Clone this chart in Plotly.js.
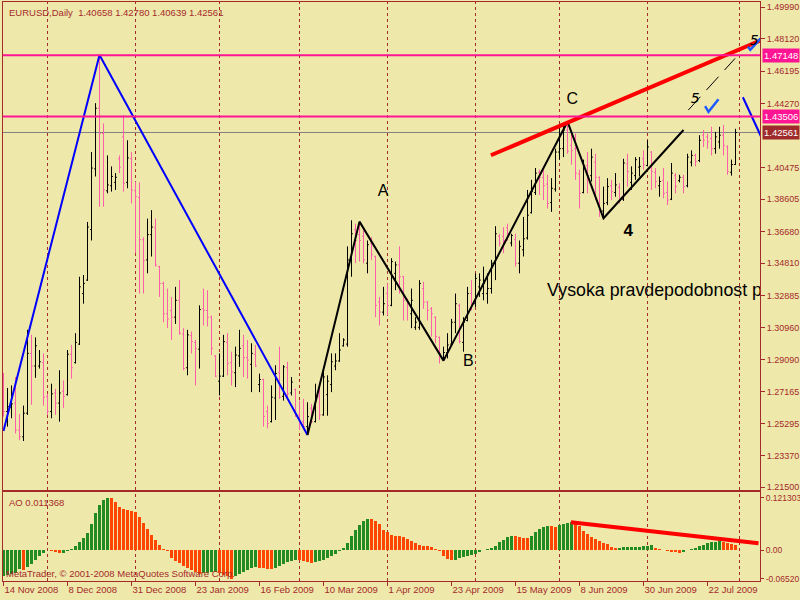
<!DOCTYPE html>
<html><head><meta charset="utf-8">
<script src="https://cdn.plot.ly/plotly-3.0.1.min.js"></script>
<style>html,body{margin:0;padding:0;background:#EEE8AA;}</style>
</head><body><div id="chart" style="width:800px;height:600px;"></div>
<script>
// ---- EURUSD Daily, 14 Nov 2008 .. 31 Jul 2009 (one entry per bar) ----
const openP = [1.2770,1.2600,1.2625,1.2650,1.2490,1.2450,1.2590,1.2945,1.2870,1.2870,
1.2890,1.2690,1.2600,1.2710,1.2650,1.2720,1.2700,1.2940,1.2890,1.3000,
1.3300,1.3380,1.3680,1.4040,1.4400,1.4250,1.3910,1.3940,1.3960,1.4100,
1.4230,1.3960,1.4100,1.3910,1.3870,1.3620,1.3500,1.3650,1.3690,1.3460,
1.3360,1.3180,1.3200,1.3160,1.3260,1.3060,1.2860,1.3050,1.3010,1.2970,
1.3210,1.3200,1.3160,1.2930,1.2780,1.2810,1.3010,1.2890,1.2830,1.2930,
1.2990,1.2920,1.2880,1.2940,1.2760,1.2790,1.2600,1.2540,1.2680,1.2830,
1.2690,1.2860,1.2710,1.2730,1.2580,1.2540,1.2510,1.2620,1.2540,1.2690,
1.2580,1.2700,1.2760,1.2870,1.2900,1.2990,1.3000,1.3500,1.3680,1.3650,
1.3640,1.3480,1.3600,1.3520,1.3250,1.3190,1.3300,1.3230,1.3420,1.3470,
1.3400,1.3265,1.3180,1.3100,1.3100,1.3330,1.3250,1.3210,1.3160,1.3040,
1.2915,1.2950,1.3000,1.3130,1.3230,1.3010,1.3140,1.3300,1.3240,1.3340,
1.3300,1.3300,1.3330,1.3480,1.3640,1.3640,1.3690,1.3600,1.3620,1.3480,
1.3560,1.3630,1.3780,1.3900,1.4020,1.3990,1.3950,1.3840,1.3920,1.4140,
1.4160,1.4270,1.4180,1.4160,1.4010,1.3900,1.4060,1.4000,1.4080,1.3990,
1.3790,1.3840,1.3940,1.3900,1.3930,1.3860,1.4070,1.3960,1.4000,1.4050,
1.4100,1.4060,1.4140,1.4020,1.3940,1.3970,1.3900,1.3860,1.4000,1.3970,
1.3990,1.3940,1.4080,1.4120,1.4090,1.4240,1.4230,1.4220,1.4160,1.4200,
1.4240,1.4170,1.4020,1.40658];
const highP = [1.2830,1.2740,1.2755,1.2805,1.2585,1.2635,1.3085,1.3055,1.3040,1.2965,
1.2945,1.2705,1.2765,1.2735,1.2845,1.2785,1.2965,1.2995,1.3065,1.3400,
1.3410,1.3725,1.4140,1.4430,1.4716,1.4310,1.4120,1.4055,1.4015,1.4120,
1.4360,1.4210,1.4140,1.3965,1.3960,1.3635,1.3745,1.3795,1.3745,1.3465,
1.3370,1.3330,1.3280,1.3340,1.3380,1.3095,1.3085,1.3075,1.3025,1.3230,
1.3330,1.3320,1.3170,1.2935,1.2945,1.3055,1.3065,1.2955,1.2985,1.3085,
1.3055,1.3025,1.3005,1.2995,1.2825,1.2795,1.2635,1.2755,1.2875,1.2985,
1.2875,1.2895,1.2805,1.2736,1.2665,1.2675,1.2655,1.2645,1.2765,1.2735,
1.2845,1.2815,1.2945,1.2945,1.3065,1.3035,1.3580,1.3735,1.3715,1.3727,
1.3675,1.3615,1.3635,1.3525,1.3280,1.3340,1.3360,1.3510,1.3490,1.3580,
1.3405,1.3270,1.3330,1.3160,1.3380,1.3370,1.3255,1.3220,1.3165,1.3045,
1.2985,1.3065,1.3150,1.3300,1.3240,1.3160,1.3340,1.3380,1.3420,1.3420,
1.3460,1.3420,1.3500,1.3700,1.3655,1.3695,1.3715,1.3655,1.3655,1.3615,
1.3755,1.3915,1.3975,1.4045,1.4035,1.4055,1.4005,1.3985,1.4160,1.4290,
1.4310,1.4320,1.4270,1.4250,1.4035,1.4095,1.4140,1.4160,1.4130,1.3995,
1.3935,1.3985,1.3975,1.4015,1.3955,1.4100,1.4130,1.4055,1.4110,1.4110,
1.4150,1.4210,1.4145,1.4045,1.3995,1.4045,1.3965,1.4075,1.4015,1.4005,
1.4005,1.4130,1.4150,1.4130,1.4240,1.4270,1.4250,1.4290,1.4260,1.4290,
1.4300,1.4180,1.4095,1.42780];
const lowP = [1.2570,1.2510,1.2560,1.2470,1.2430,1.2425,1.2580,1.2640,1.2800,1.2855,
1.2635,1.2580,1.2560,1.2580,1.2540,1.2620,1.2695,1.2795,1.2885,1.2995,
1.3240,1.3375,1.3615,1.3995,1.3815,1.3815,1.3895,1.3905,1.3915,1.4015,
1.3905,1.3925,1.3835,1.3540,1.3300,1.3300,1.3420,1.3520,1.3460,1.3280,
1.3130,1.3095,1.3025,1.3120,1.3055,1.2845,1.2815,1.2945,1.2755,1.2855,
1.3110,1.3105,1.2935,1.2805,1.2695,1.2805,1.2815,1.2755,1.2745,1.2865,
1.2805,1.2795,1.2715,1.2865,1.2715,1.2510,1.2500,1.2535,1.2550,1.2675,
1.2665,1.2685,1.2695,1.2568,1.2490,1.2490,1.2460,1.2530,1.2535,1.2550,
1.2575,1.2575,1.2715,1.2845,1.2895,1.2985,1.2985,1.3400,1.3480,1.3490,
1.3480,1.3420,1.3500,1.3160,1.3110,1.3170,1.3170,1.3225,1.3320,1.3300,
1.3140,1.3140,1.3095,1.3085,1.3085,1.3210,1.3140,1.3045,1.3005,1.2885,
1.2902,1.2915,1.2995,1.3065,1.3005,1.2955,1.3135,1.3200,1.3220,1.3280,
1.3260,1.3240,1.3300,1.3380,1.3580,1.3540,1.3615,1.3580,1.3460,1.3420,
1.3520,1.3620,1.3775,1.3885,1.3885,1.3855,1.3805,1.3785,1.3905,1.4095,
1.4110,1.4130,1.4065,1.3975,1.3805,1.3895,1.3895,1.3965,1.3855,1.3755,
1.3747,1.3825,1.3855,1.3875,1.3835,1.3850,1.3935,1.3915,1.3975,1.3995,
1.4035,1.4055,1.3915,1.3925,1.3875,1.3865,1.3825,1.3855,1.3895,1.3960,
1.3895,1.3930,1.4055,1.4055,1.4080,1.4170,1.4160,1.4120,1.4130,1.4160,
1.4120,1.4005,1.4000,1.40639];
const closeP = [1.2600,1.2630,1.2645,1.2490,1.2450,1.2590,1.2945,1.2870,1.2990,1.2895,
1.2685,1.2600,1.2705,1.2650,1.2710,1.2690,1.2940,1.2860,1.3010,1.3340,
1.3360,1.3695,1.4045,1.4400,1.4250,1.3915,1.3945,1.3995,1.3990,1.4050,
1.3955,1.4105,1.3915,1.3875,1.3620,1.3495,1.3650,1.3695,1.3470,1.3360,
1.3180,1.3150,1.3160,1.3260,1.3065,1.2855,1.3055,1.3015,1.2975,1.3205,
1.3200,1.3160,1.2975,1.2810,1.2810,1.3015,1.2885,1.2835,1.2935,1.2975,
1.2920,1.2905,1.2945,1.2870,1.2790,1.2570,1.2530,1.2685,1.2825,1.2685,
1.2865,1.2705,1.2775,1.2578,1.2530,1.2510,1.2570,1.2540,1.2685,1.2580,
1.2805,1.2780,1.2895,1.2900,1.2965,1.3025,1.3500,1.3655,1.3615,1.3615,
1.3500,1.3590,1.3530,1.3230,1.3190,1.3240,1.3230,1.3490,1.3470,1.3400,
1.3260,1.3250,1.3260,1.3130,1.3360,1.3250,1.3200,1.3180,1.3045,1.2945,
1.2950,1.2995,1.3130,1.3240,1.3015,1.3130,1.3300,1.3240,1.3390,1.3380,
1.3360,1.3330,1.3480,1.3655,1.3600,1.3615,1.3640,1.3645,1.3480,1.3580,
1.3625,1.3765,1.3905,1.4015,1.3990,1.3940,1.3835,1.3925,1.4140,1.4160,
1.4270,1.4145,1.4150,1.4015,1.3895,1.4055,1.4000,1.4110,1.3990,1.3795,
1.3835,1.3935,1.3905,1.3945,1.3855,1.4075,1.4025,1.4015,1.4095,1.4055,
1.4065,1.4170,1.4025,1.3965,1.3965,1.3895,1.3855,1.4015,1.3935,1.3990,
1.3935,1.4110,1.4120,1.4085,1.4210,1.4210,1.4200,1.4160,1.4230,1.4240,
1.4180,1.4025,1.4066,1.42561];
// Awesome Oscillator, one value per bar
const aoValues = [-0.0584,-0.0569,-0.0546,-0.0515,-0.0431,-0.0461,-0.0385,-0.0308,-0.0231,-0.0138,
-0.0062,0.0008,-0.0015,-0.0046,-0.0069,-0.0054,-0.0023,0.0031,0.0092,0.0185,
0.0285,0.0400,0.0608,0.0861,0.1054,0.1169,0.1213,0.1207,0.1123,0.1000,
0.0961,0.0938,0.0907,0.0877,0.0769,0.0631,0.0492,0.0361,0.0246,0.0131,
0.0038,-0.0015,-0.0177,-0.0254,-0.0292,-0.0354,-0.0408,-0.0461,-0.0500,-0.0546,
-0.0531,-0.0515,-0.0500,-0.0492,-0.0523,-0.0561,-0.0600,-0.0652,-0.0600,-0.0546,
-0.0492,-0.0446,-0.0415,-0.0392,-0.0400,-0.0415,-0.0431,-0.0438,-0.0415,-0.0369,
-0.0308,-0.0277,-0.0246,-0.0215,-0.0231,-0.0254,-0.0277,-0.0292,-0.0277,-0.0246,
-0.0223,-0.0185,-0.0138,-0.0077,-0.0023,0.0054,0.0169,0.0323,0.0477,0.0592,
0.0669,0.0723,0.0715,0.0669,0.0608,0.0477,0.0415,0.0361,0.0338,0.0323,
0.0308,0.0261,0.0208,0.0161,0.0131,0.0108,0.0092,0.0069,0.0038,-0.0015,
-0.0123,-0.0200,-0.0231,-0.0215,-0.0185,-0.0154,-0.0123,-0.0100,-0.0077,-0.0031,
0.0008,0.0031,0.0054,0.0108,0.0185,0.0246,0.0308,0.0338,0.0323,0.0300,
0.0285,0.0277,0.0338,0.0415,0.0492,0.0546,0.0569,0.0561,0.0546,0.0577,
0.0600,0.0631,0.0661,0.0631,0.0554,0.0454,0.0377,0.0315,0.0261,0.0215,
0.0177,0.0138,0.0085,0.0062,0.0063,0.0065,0.0066,0.0069,0.0077,0.0085,
0.0092,0.0108,0.0115,0.0062,0.0038,0.0015,-0.0015,-0.0038,-0.0046,-0.0054,
-0.0031,0.0002,0.0023,0.0054,0.0092,0.0131,0.0169,0.0192,0.0200,0.0208,
0.0195,0.0170,0.0140,0.011368];
const dateTickBars = [0,16,32,48,64,80,96,112,128,144,160,176];
const dateTickLabels = ['14 Nov 2008','8 Dec 2008','31 Dec 2008','23 Jan 2009','16 Feb 2009','10 Mar 2009',
  '1 Apr 2009','23 Apr 2009','15 May 2009','8 Jun 2009','30 Jun 2009','22 Jul 2009'];
const monthStartBars = [11,33,54,74,96,118,139,161,184];
const priceTicks = [1.49990,1.48120,1.46195,1.44270,1.40475,1.38605,1.36680,1.34810,1.32885,1.30960,1.29090,1.27165,1.25295,1.23370,1.21500];
const aoTicks = [0.121303, 0.0, -0.0652];
const aoTickLabels = ['0.121303','0.00','-0.06520'];
const levelLines = [1.47148, 1.43506];
const lastQuote = {open:1.40658, high:1.42780, low:1.40639, close:1.42561};
const aoLast = 0.011368;
// hand-drawn objects (bar index, price)
const blueWaveBar = [0, 24, 76];
const blueWavePrice = [1.2485, 1.4716, 1.2461];
const blueTailBar = [184.85, 190.5];
const blueTailPrice = [1.4465, 1.4175];
const blackWaveBar = [76, 89, 110, 141, 150, 170];
const blackWavePrice = [1.2461, 1.3727, 1.2902, 1.4320, 1.3747, 1.4271];
const redTrendBar = [121.85, 192];
const redTrendPrice = [1.4121, 1.4830];
const dashBar = [171.2, 182.9];
const dashPrice = [1.4389, 1.4696];
const check1Bar = [175.4, 176.25, 178.75];
const check1Price = [1.4413, 1.4379, 1.4453];
const check2Bar = [186.1, 186.7, 189.8];
const check2Price = [1.4765, 1.4747, 1.4828];
const aoTrendBar = [141.85, 188.75];
const aoTrendVal = [0.0646, 0.0161];
const waveLabels = [
  {t:'A', bar:94.9, p:1.3903}, {t:'B', bar:116.2, p:1.2894}, {t:'C', bar:142.2, p:1.4449}
];

const BROWN = '#A52A2A', BG = '#EEE8AA', PINK = '#FF1493';
const GREEN = '#228B22', ORANGERED = '#FF4500';
const small = {family:'Liberation Sans, Arial, sans-serif', size:9.5, color:BROWN};
const tickFont = {family:'Liberation Sans, Arial, sans-serif', size:9, color:BROWN};
const aoTickFont = {family:'Liberation Sans, Arial, sans-serif', size:8.5, color:BROWN};
const barIdx = openP.map((_, i) => i);
const aoColors = aoValues.map((v, i) => (i === 0 || v >= aoValues[i-1]) ? GREEN : ORANGERED);
const xr = [-0.125, 189.125];
const mainDom = [0.15717, 1], aoDom = [0, 0.15285];

const traces = [
  {type:'ohlc', x:barIdx, open:openP, high:highP, low:lowP, close:closeP, xaxis:'x', yaxis:'y',
   increasing:{line:{color:'#000000', width:1}}, decreasing:{line:{color:'#FF5FAA', width:1}},
   tickwidth:0.35, hoverinfo:'skip', showlegend:false},
  {type:'bar', x:barIdx, y:aoValues, xaxis:'x2', yaxis:'y2', width:0.75,
   marker:{color:aoColors, line:{width:0}}, hoverinfo:'skip', showlegend:false},
  {type:'scatter', mode:'lines', x:blueWaveBar, y:blueWavePrice, line:{color:'#0000FF', width:2}, hoverinfo:'skip', showlegend:false},
  {type:'scatter', mode:'lines', x:blueTailBar, y:blueTailPrice, line:{color:'#0000FF', width:2}, hoverinfo:'skip', showlegend:false},
  {type:'scatter', mode:'lines', x:blackWaveBar, y:blackWavePrice, line:{color:'#000000', width:2}, hoverinfo:'skip', showlegend:false},
  {type:'scatter', mode:'lines', x:redTrendBar, y:redTrendPrice, line:{color:'#FF0000', width:4}, hoverinfo:'skip', showlegend:false},
  {type:'scatter', mode:'lines', x:dashBar, y:dashPrice, line:{color:'#000000', width:1, dash:'18px,9px'}, hoverinfo:'skip', showlegend:false},
  {type:'scatter', mode:'lines', x:check1Bar, y:check1Price, line:{color:'#1E5AFF', width:2.5}, hoverinfo:'skip', showlegend:false},
  {type:'scatter', mode:'lines', x:check2Bar, y:check2Price, line:{color:'#1E5AFF', width:2.5}, hoverinfo:'skip', showlegend:false},
  {type:'scatter', mode:'lines', x:aoTrendBar, y:aoTrendVal, xaxis:'x2', yaxis:'y2', line:{color:'#FF0000', width:4}, hoverinfo:'skip', showlegend:false},
  {type:'scatter', mode:'text', x:waveLabels.map(d=>d.bar), y:waveLabels.map(d=>d.p), text:waveLabels.map(d=>d.t),
   textposition:'middle center', textfont:{family:'Liberation Sans, Arial', size:16, color:'#000'}, hoverinfo:'skip', showlegend:false},
  {type:'scatter', mode:'text', x:[156.2], y:[1.3665], text:['4'], textposition:'middle center',
   textfont:{family:'Liberation Sans, Arial', size:17, weight:'bold', color:'#000'}, hoverinfo:'skip', showlegend:false},
  {type:'scatter', mode:'text', x:[135.9], y:[1.3309], text:['Vysoka pravdepodobnost p'], textposition:'middle right',
   textfont:{family:'Liberation Sans, Arial', size:17.8, color:'#000'}, hoverinfo:'skip', showlegend:false},
  {type:'scatter', mode:'text', x:[172.9, 187.7], y:[1.4449, 1.4799], text:['5','5'], textposition:'middle center',
   textfont:{family:'DejaVu Sans, sans-serif', size:14, style:'italic', color:'#000'}, hoverinfo:'skip', showlegend:false}
];

const shapes = [];
monthStartBars.forEach(b => {
  shapes.push({type:'line', xref:'x', yref:'paper', x0:b, x1:b, y0:mainDom[0], y1:mainDom[1], layer:'below', line:{color:BROWN, width:1, dash:'3px,3px'}});
  shapes.push({type:'line', xref:'x2', yref:'paper', x0:b, x1:b, y0:aoDom[0], y1:aoDom[1], layer:'below', line:{color:BROWN, width:1, dash:'3px,3px'}});
});
shapes.push({type:'line', xref:'paper', yref:'y', x0:0, x1:1, y0:lastQuote.close, y1:lastQuote.close, layer:'below', line:{color:'#808080', width:1}});
levelLines.forEach(v => shapes.push({type:'line', xref:'paper', yref:'y', x0:0, x1:1, y0:v, y1:v, layer:'above', line:{color:PINK, width:2}}));

const fmt = v => v.toFixed(5);
const annotations = [
  {xref:'paper', yref:'paper', x:0, y:1, xanchor:'left', yanchor:'top', xshift:4, yshift:-3, showarrow:false,
   text:'EURUSD,Daily  ' + [lastQuote.open, lastQuote.high, lastQuote.low, lastQuote.close].map(fmt).join(' '), font:small},
  {xref:'paper', yref:'paper', x:0, y:aoDom[1], xanchor:'left', yanchor:'top', xshift:4, yshift:-3, showarrow:false,
   text:'AO ' + aoLast.toFixed(6), font:small},
  {xref:'paper', yref:'paper', x:0, y:0, xanchor:'left', yanchor:'bottom', xshift:1, yshift:0, showarrow:false,
   text:'MetaTrader, © 2001-2008 MetaQuotes Software Corp.', font:small},
];
levelLines.forEach(v => annotations.push({xref:'paper', yref:'y', x:1, y:v, xanchor:'left', yanchor:'middle', xshift:2, showarrow:false,
  text:fmt(v), bgcolor:PINK, borderpad:1, font:{family:small.family, size:9.5, color:'#FFFFFF'}}));
annotations.push({xref:'paper', yref:'y', x:1, y:lastQuote.close, xanchor:'left', yanchor:'middle', xshift:2, showarrow:false,
  text:fmt(lastQuote.close), bgcolor:'#9E2A2B', borderpad:1, font:{family:small.family, size:9.5, color:'#FFFFFF'}});

const axisBase = {showline:true, mirror:true, linecolor:BROWN, linewidth:1, zeroline:false, showgrid:false, fixedrange:true};
const layout = {
  width:800, height:600, margin:{l:3, r:40, t:2, b:19, pad:0},
  paper_bgcolor:BG, plot_bgcolor:BG, showlegend:false, bargap:0,
  xaxis:Object.assign({}, axisBase, {domain:[0,1], anchor:'y', range:xr, ticks:'', showticklabels:false, rangeslider:{visible:false}}),
  yaxis:Object.assign({}, axisBase, {domain:mainDom, anchor:'x', side:'right', range:[1.21342, 1.50305],
    tickmode:'array', tickvals:priceTicks, ticktext:priceTicks.map(fmt), ticks:'outside', ticklen:4, tickcolor:BROWN, tickfont:tickFont}),
  xaxis2:Object.assign({}, axisBase, {domain:[0,1], anchor:'y2', range:xr, tickmode:'array', tickvals:dateTickBars, ticktext:dateTickLabels,
    ticks:'outside', ticklen:4, tickcolor:BROWN, tickfont:small, ticklabelposition:'outside right'}),
  yaxis2:Object.assign({}, axisBase, {domain:aoDom, anchor:'x2', side:'right', range:[-0.0708, 0.1333],
    tickmode:'array', tickvals:aoTicks, ticktext:aoTickLabels, ticks:'outside', ticklen:3, tickcolor:BROWN, tickfont:aoTickFont}),
  shapes:shapes, annotations:annotations
};
Plotly.newPlot('chart', traces, layout, {displayModeBar:false, staticPlot:true});
</script></body></html>
